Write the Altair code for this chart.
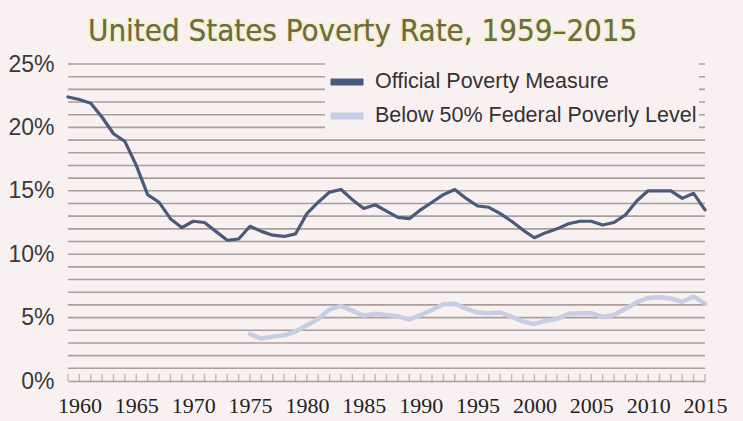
import altair as alt
import pandas as pd

# Poverty rate (%) by year
years = list(range(1959, 2016))
official = [22.4, 22.2, 21.9, 20.8, 19.5, 18.9, 17.0, 14.7, 14.1, 12.8,
            12.1, 12.6, 12.5, 11.8, 11.1, 11.2, 12.2, 11.8, 11.5, 11.4,
            11.6, 13.2, 14.1, 14.9, 15.1, 14.3, 13.6, 13.9, 13.4, 12.9,
            12.8, 13.5, 14.1, 14.7, 15.1, 14.4, 13.8, 13.7, 13.2, 12.6,
            11.9, 11.3, 11.7, 12.0, 12.4, 12.6, 12.6, 12.3, 12.5, 13.1,
            14.2, 15.0, 15.0, 15.0, 14.4, 14.8, 13.5]

deep_years = list(range(1975, 2016))
deep = [3.7, 3.35, 3.5, 3.6, 3.9, 4.4, 4.9, 5.65, 5.9, 5.55,
        5.15, 5.3, 5.2, 5.1, 4.85, 5.2, 5.6, 6.05, 6.1, 5.7,
        5.4, 5.35, 5.4, 5.05, 4.7, 4.5, 4.75, 4.9, 5.3, 5.35,
        5.35, 5.05, 5.2, 5.7, 6.2, 6.55, 6.6, 6.5, 6.25, 6.65,
        6.1]

series_names = ["Official Poverty Measure", "Below 50% Federal Poverly Level"]
series_colors = ["#4b5a7b", "#c6cee6"]

grid_levels = list(range(1, 26))
label_levels = [0, 5, 10, 15, 20, 25]
year_labels = list(range(1960, 2016, 5))

title_text = "United States Poverty Rate, 1959\u20132015"

BG = "#f9f1f1"
GRID = "#a99e9e"

lines_df = pd.concat([
    pd.DataFrame({"year": years, "rate": official, "series": series_names[0]}),
    pd.DataFrame({"year": deep_years, "rate": deep, "series": series_names[1]}),
])
grid_df = pd.DataFrame({"level": grid_levels})
ticks_df = pd.DataFrame({"year": years, "zero": [0] * len(years)})

x_scale = alt.Scale(domain=[1959, 2015], nice=False, zero=False)
y_scale = alt.Scale(domain=[0, 25], nice=False)
color_scale = alt.Scale(domain=series_names, range=series_colors)

x_axis = alt.Axis(values=year_labels, format="d", grid=False, ticks=False,
                  domain=True, domainColor=GRID, domainWidth=1.6,
                  labelFont="Liberation Serif", labelFontSize=22,
                  labelColor="#222222", labelPadding=14, title=None,
                  labelFlush=False)
y_axis = alt.Axis(values=label_levels, grid=False, ticks=False, domain=False,
                  labelExpr="datum.value + '%'", labelFont="Liberation Sans",
                  labelFontSize=23, labelColor="#3a3a3a", labelPadding=14,
                  title=None)

gridlines = alt.Chart(grid_df).mark_rule(color=GRID, strokeWidth=1.6).encode(
    y=alt.Y("level:Q", scale=y_scale, axis=y_axis),
)

year_ticks = alt.Chart(ticks_df).mark_tick(
    orient="vertical", color=GRID, size=7, thickness=1.4, yOffset=-3.5
).encode(
    x=alt.X("year:Q", scale=x_scale, axis=x_axis),
    y=alt.Y("zero:Q", scale=y_scale),
)


def series_line(name, width):
    return alt.Chart(lines_df).transform_filter(
        alt.datum.series == name
    ).mark_line(strokeJoin="round", strokeCap="round", strokeWidth=width).encode(
        x=alt.X("year:Q", scale=x_scale),
        y=alt.Y("rate:Q", scale=y_scale),
        color=alt.Color("series:N", scale=color_scale, legend=None),
    )


official_line = series_line(series_names[0], 3.2)
deep_line = series_line(series_names[1], 4.5)

# Legend-only layer: no rows pass the filter, it just carries the key
legend_layer = alt.Chart(lines_df).transform_filter("false").mark_line(
    strokeWidth=7, strokeCap="butt"
).encode(
    x=alt.X("year:Q", scale=x_scale),
    y=alt.Y("rate:Q", scale=y_scale),
    color=alt.Color(
        "series:N",
        scale=color_scale,
        legend=alt.Legend(
            title=None, orient="none", legendX=257, legendY=-4,
            symbolType="stroke", symbolSize=1089, symbolStrokeWidth=7,
            labelFont="Liberation Sans", labelFontSize=21.5,
            labelColor="#333333", labelOffset=8, rowPadding=-4,
            fillColor=BG, padding=2, labelLimit=400,
        ),
    ),
)

title_df = pd.DataFrame({"t": [title_text]})
title_font = "Liberation Sans Narrow, DejaVu Sans Condensed, Noto Sans"
title_glow = alt.Chart(title_df).mark_text(
    font=title_font, fontSize=31, align="left", baseline="alphabetic",
    color="#6b6b45", stroke="#eef0a6", strokeWidth=3, strokeOpacity=0.6,
).encode(text="t:N", x=alt.value(20), y=alt.value(-23))
title_main = alt.Chart(title_df).mark_text(
    font=title_font, fontSize=31, align="left", baseline="alphabetic",
    color="#6b6b45",
).encode(text="t:N", x=alt.value(20), y=alt.value(-23))

chart = alt.layer(
    gridlines, year_ticks, legend_layer, deep_line, official_line,
    title_glow, title_main,
).properties(
    width=637, height=317,
    background=BG,
    autosize=alt.AutoSizeParams(type="none"),
    padding={"left": 68, "top": 64, "right": 38, "bottom": 40},
).configure_view(stroke=None)

chart.save("out.html", embed_options={"renderer": "svg", "actions": False})
